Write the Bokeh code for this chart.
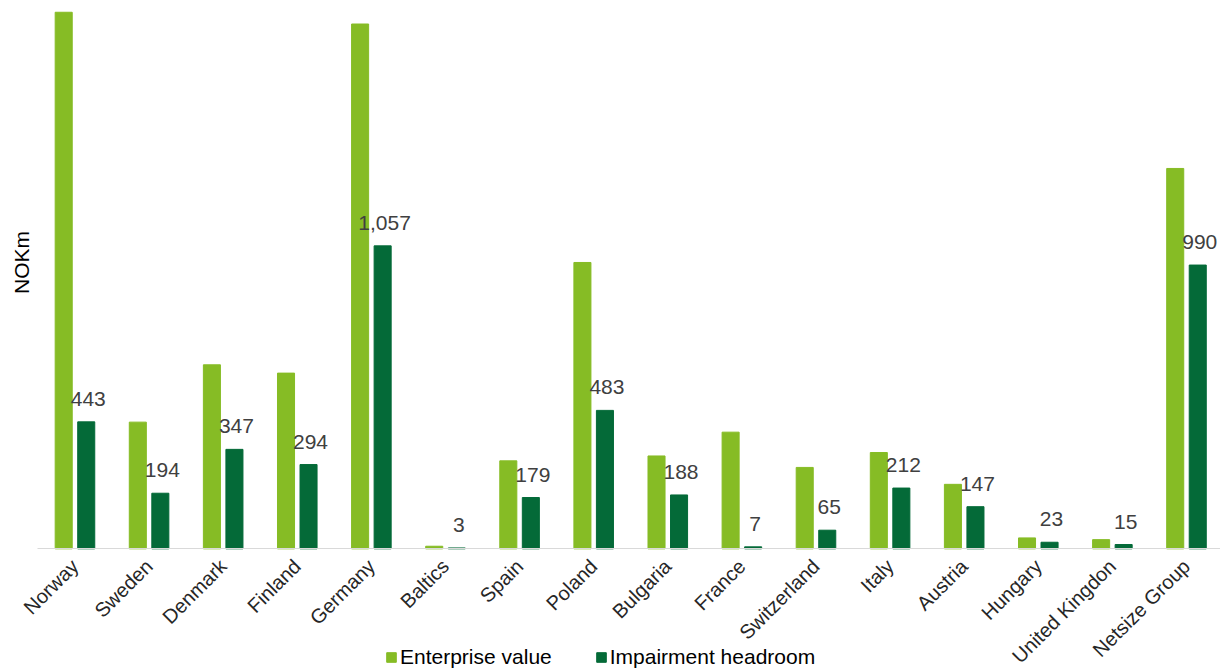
import math
from bokeh.plotting import figure
from bokeh.models import (ColumnDataSource, Range1d, FixedTicker, Legend, LegendItem,
                          Label, LabelSet, LinearAxis)
from bokeh.transform import dodge
from bokeh.core.properties import value
from bokeh.embed import file_html
from bokeh.resources import INLINE

countries = ["Norway", "Sweden", "Denmark", "Finland", "Germany", "Baltics", "Spain",
             "Poland", "Bulgaria", "France", "Switzerland", "Italy", "Austria",
             "Hungary", "United Kingdon", "Netsize Group"]
enterprise_value = [1872, 442, 642, 613, 1831, 9, 307, 999, 324, 407, 284, 336, 225, 38, 32, 1327]
impairment_headroom = [443, 194, 347, 294, 1057, 3, 179, 483, 188, 7, 65, 212, 147, 23, 15, 990]
headroom_labels = [f"{v:,}" for v in impairment_headroom]

EV_COLOR = "#86BC25"
HR_COLOR = "#046A38"
FONT = "Liberation Sans"

idx = list(range(len(countries)))
src = ColumnDataSource(dict(x=idx, ev=enterprise_value, hr=impairment_headroom,
                            lbl=headroom_labels))

p = figure(frame_width=1220, frame_height=669,
           x_range=Range1d(-1.005, 15.459), y_range=Range1d(-421, 1913),
           output_backend="svg", toolbar_location=None,
           min_border_left=0, min_border_right=0, min_border_top=0, min_border_bottom=0,
           x_axis_location=None, y_axis_location=None)

ev = p.vbar(x=dodge("x", -0.152, range=p.x_range), top="ev", width=0.23, source=src,
            fill_color=EV_COLOR, line_color=EV_COLOR)
hr = p.vbar(x=dodge("x", 0.152, range=p.x_range), top="hr", width=0.23, source=src,
            fill_color=HR_COLOR, line_color=HR_COLOR)

labels = LabelSet(x=dodge("x", 0.152, range=p.x_range), y="hr", text="lbl", source=src,
                  x_offset=2, y_offset=16, text_align="center", text_baseline="alphabetic",
                  text_font=value(FONT), text_font_size="21px", text_color="#404040")
p.add_layout(labels)

p.xgrid.visible = False
p.ygrid.visible = False
p.outline_line_color = None

xaxis = LinearAxis(fixed_location=0)
xaxis.ticker = FixedTicker(ticks=idx)
xaxis.bounds = (-0.5, 15.459)
xaxis.major_label_overrides = {i: c for i, c in zip(idx, countries)}
xaxis.major_label_orientation = math.pi / 4
xaxis.major_tick_line_color = None
xaxis.minor_tick_line_color = None
xaxis.axis_line_color = "#D9D9D9"
xaxis.major_label_standoff = 8
xaxis.major_label_text_font = FONT
xaxis.major_label_text_font_size = "20px"
xaxis.major_label_text_color = "#262626"
p.add_layout(xaxis, "below")

ylab = Label(x=21, y=407, x_units="screen", y_units="screen", text="NOKm",
             angle=math.pi / 2, text_align="center", text_baseline="middle",
             text_font=FONT, text_font_size="21px", text_color="#000000")
p.add_layout(ylab)

legend = Legend(items=[LegendItem(label="Enterprise value", renderers=[ev]),
                       LegendItem(label="Impairment headroom", renderers=[hr])],
                orientation="horizontal", location=(385, 0),
                glyph_width=12, glyph_height=12, label_standoff=3, spacing=43,
                padding=0, margin=0, border_line_alpha=0, background_fill_alpha=0,
                label_text_font=FONT, label_text_font_size="21px",
                label_text_color="#000000")
p.add_layout(legend)

open("out.html", "w").write(file_html(p, INLINE))
